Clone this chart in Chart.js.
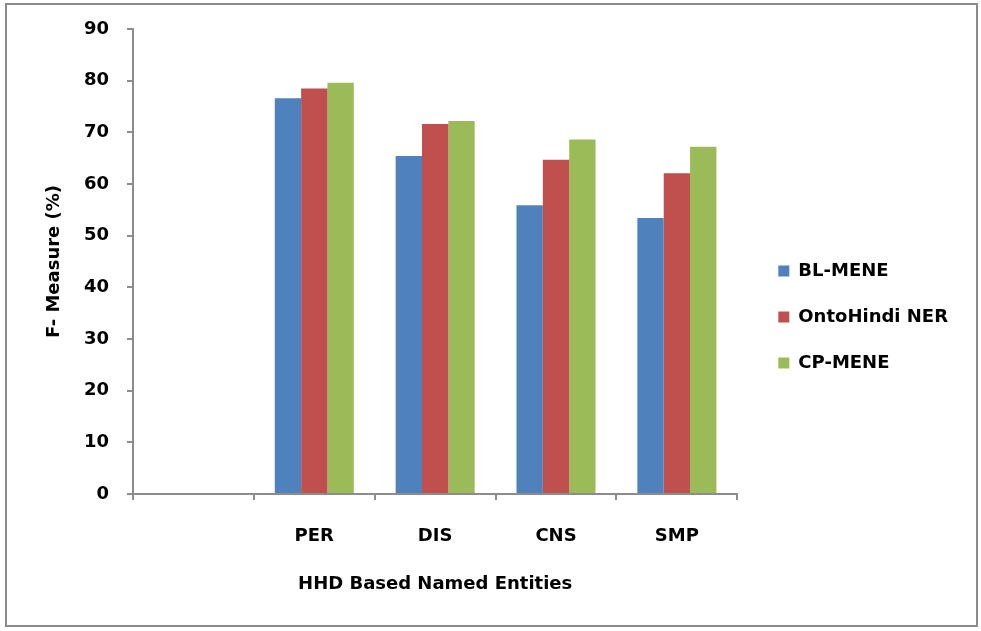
<!DOCTYPE html>
<html>
<head>
<meta charset="utf-8">
<title>F-Measure by HHD Based Named Entities</title>
<script src="https://cdn.jsdelivr.net/npm/chart.js@4.4.1/dist/chart.umd.min.js"></script>
<style>
  html, body { margin: 0; padding: 0; background: #ffffff; }
  #wrap { position: absolute; left: 0; top: 0; width: 981px; height: 631px; }
</style>
</head>
<body>
<div id="wrap"><canvas id="chart" width="981" height="631"></canvas></div>
<script>
// Categories (the first slot is an empty category on the axis)
const categories = ['', 'PER', 'DIS', 'CNS', 'SMP'];

// F-Measure (%) per system
const blMene       = [null, 76.6, 65.4, 55.9, 53.4];
const ontoHindiNer = [null, 78.5, 71.6, 64.7, 62.1];
const cpMene       = [null, 79.6, 72.2, 68.6, 67.2];

const seriesNames = ['BL-MENE', 'OntoHindi NER', 'CP-MENE'];
const seriesColors = ['#4F81BD', '#C0504D', '#9BBB59'];

const yTitle = 'F- Measure (%)';
const xTitle = 'HHD Based Named Entities';

const axisGray = '#8c8c8c';
const FONT = 'DejaVu Sans';

Chart.defaults.font.family = FONT;
Chart.defaults.font.size = 18;
Chart.defaults.font.weight = 'bold';
Chart.defaults.color = '#000000';

// Outer frame and white background
const framePlugin = {
  id: 'frame',
  beforeDraw(chart) {
    const ctx = chart.ctx;
    ctx.save();
    ctx.fillStyle = '#ffffff';
    ctx.fillRect(0, 0, chart.width, chart.height);
    ctx.strokeStyle = '#8a8a8a';
    ctx.lineWidth = 2;
    ctx.strokeRect(6, 4, 971, 622);
    ctx.restore();
  }
};

// Move the legend block a little right of the plot and up
const legendShift = {
  id: 'legendShift',
  afterLayout(chart) {
    const lg = chart.legend;
    if (!lg) return;
    const dx = 13, dy = -13;
    lg.left += dx; lg.right += dx;
    lg.top += dy; lg.bottom += dy;
  }
};

const datasets = [blMene, ontoHindiNer, cpMene].map((values, i) => ({
  label: seriesNames[i],
  data: values,
  backgroundColor: seriesColors[i],
  borderColor: seriesColors[i],
  borderWidth: 0,
  categoryPercentage: 0.654,
  barPercentage: 1.0
}));

new Chart(document.getElementById('chart'), {
  type: 'bar',
  data: { labels: categories, datasets },
  plugins: [framePlugin, legendShift],
  options: {
    responsive: false,
    animation: false,
    layout: { padding: { left: 0, right: 36, top: 29, bottom: 0 } },
    plugins: {
      tooltip: { enabled: false },
      legend: {
        position: 'right',
        align: 'center',
        labels: {
          boxWidth: 11,
          boxHeight: 11,
          padding: 28,
          color: '#000000',
          font: { family: FONT, size: 18, weight: 'bold' }
        }
      }
    },
    scales: {
      x: {
        afterFit(scale) { scale.height = 137; },
        grid: {
          offset: true,
          drawOnChartArea: false,
          drawTicks: true,
          tickLength: 6,
          color: axisGray,
          lineWidth: 2
        },
        border: { display: true, color: axisGray, width: 2 },
        ticks: {
          padding: 26,
          color: '#000000',
          font: { family: FONT, size: 18, weight: 'bold' }
        },
        title: {
          display: true,
          text: xTitle,
          color: '#000000',
          font: { family: FONT, size: 18, weight: 'bold' },
          padding: { top: 0, bottom: 36 }
        }
      },
      y: {
        min: 0,
        max: 90,
        afterFit(scale) { scale.width = 133; },
        grid: {
          drawOnChartArea: false,
          drawTicks: true,
          tickLength: 6,
          color: axisGray,
          lineWidth: 2
        },
        border: { display: true, color: axisGray, width: 2 },
        ticks: {
          stepSize: 10,
          padding: 18,
          color: '#000000',
          font: { family: FONT, size: 18, weight: 'bold' }
        },
        title: {
          display: true,
          text: yTitle,
          color: '#000000',
          font: { family: FONT, size: 18, weight: 'bold' },
          padding: { top: 44, bottom: 0 }
        }
      }
    }
  }
});
</script>
</body>
</html>
